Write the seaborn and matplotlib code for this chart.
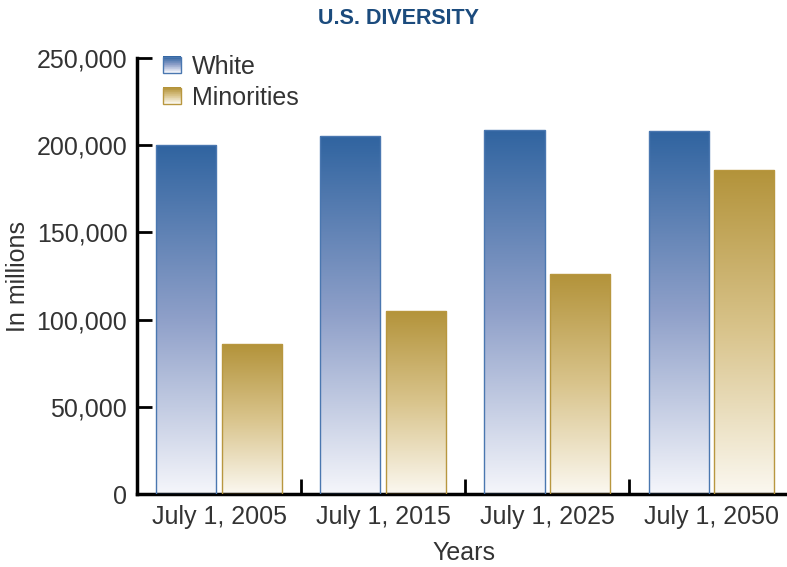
import numpy as np
import pandas as pd
import matplotlib
matplotlib.use("Agg")
import matplotlib.pyplot as plt
import seaborn as sns
from matplotlib.colors import LinearSegmentedColormap
from matplotlib.patches import Rectangle, Patch
from matplotlib.legend_handler import HandlerBase

# Population estimates (thousands) by group
years = ["July 1, 2005", "July 1, 2015", "July 1, 2025", "July 1, 2050"]
white = [200000, 205000, 209000, 208000]
minorities = [86000, 105000, 126000, 186000]
groups = ["White", "Minorities"]
yticks = [0, 50000, 100000, 150000, 200000, 250000]

df = pd.DataFrame({
    "year": years * 2,
    "value": white + minorities,
    "group": [groups[0]] * len(years) + [groups[1]] * len(years),
})

sns.set_theme(style="white")
plt.rcParams["font.family"] = ["Liberation Sans", "DejaVu Sans"]
text_color = "#333333"

# vertical fills: light at the base, saturated at the top
cmaps = {
    "White": LinearSegmentedColormap.from_list(
        "white_grad", ["#f5f6fb", "#8fa0c9", "#3064a0"]),
    "Minorities": LinearSegmentedColormap.from_list(
        "min_grad", ["#fbf8f0", "#d9c48c", "#b3933a"]),
}
edges = {"White": "#4a77b0", "Minorities": "#b8973f"}

fig = plt.figure(figsize=(7.87, 5.67), dpi=100)
ax = fig.add_axes([137 / 787, 1 - 494 / 567, 650 / 787, 436 / 567])

sns.barplot(data=df, x="year", y="value", hue="group", hue_order=groups,
            order=years, palette=[edges[g] for g in groups], width=0.8,
            gap=0.085, legend=False, ax=ax)

xlim = (-0.5, 3.46)
ylim = (0, 250000)

grad = np.linspace(0, 1, 256).reshape(-1, 1)
for i, patch in enumerate(ax.patches):
    g = groups[i // len(years)]
    x0, y0 = patch.get_x(), patch.get_y()
    w, h = patch.get_width(), patch.get_height()
    patch.set_facecolor("none")
    patch.set_edgecolor(edges[g])
    patch.set_linewidth(1.0)
    patch.set_zorder(3)
    im = ax.imshow(grad, extent=[x0, x0 + w, y0, y0 + h], origin="lower",
                   aspect="auto", cmap=cmaps[g], zorder=2)
    im.set_clip_path(patch)

ax.set_xlim(*xlim)
ax.set_ylim(*ylim)
ax.set_yticks(yticks)
ax.set_yticklabels([f"{v:,}" for v in yticks])
ax.set_xticks(range(len(years)))
ax.set_xticklabels(years)
ax.set_xticks([0.5, 1.5, 2.5], minor=True)
ax.set_xlabel("")
ax.set_ylabel("")

ax.tick_params(axis="y", which="major", direction="in", length=11, width=2,
               color="black", labelsize=18, labelcolor=text_color, pad=7, left=True)
ax.tick_params(axis="x", which="major", length=0, labelsize=18,
               labelcolor=text_color, pad=8)
ax.tick_params(axis="x", which="minor", direction="in", length=11, width=2,
               color="black", bottom=True)

for side in ["top", "right"]:
    ax.spines[side].set_visible(False)
for side in ["left", "bottom"]:
    ax.spines[side].set_color("black")
    ax.spines[side].set_linewidth(2.5)


class GradientHandler(HandlerBase):
    def __init__(self, cmap, edge):
        super().__init__()
        self.cmap = cmap
        self.edge = edge

    def create_artists(self, legend, orig_handle, xdescent, ydescent,
                       width, height, fontsize, trans):
        n = 24
        arts = []
        for k in range(n):
            arts.append(Rectangle((-xdescent, -ydescent + k * height / n),
                                  width, height / n + 0.3,
                                  facecolor=self.cmap(k / (n - 1)),
                                  edgecolor="none", transform=trans))
        arts.append(Rectangle((-xdescent, -ydescent), width, height,
                              facecolor="none", edgecolor=self.edge,
                              linewidth=1.0, transform=trans))
        return arts


handles = [Patch(label=g) for g in groups]
leg = ax.legend(handles=handles, labels=groups,
                handler_map={h: GradientHandler(cmaps[g], edges[g])
                             for h, g in zip(handles, groups)},
                loc="upper left", bbox_to_anchor=(0.04, 1.008), frameon=False,
                fontsize=18, handlelength=0.7, handleheight=0.62,
                handletextpad=0.45, labelspacing=0.28, borderpad=0,
                borderaxespad=0)
for t in leg.get_texts():
    t.set_color(text_color)

fig.text(399 / 787, 1 - 18 / 567, "U.S. DIVERSITY", ha="center", va="center",
         fontsize=15.5, fontweight="bold", color="#1b4b7d")
fig.text(18 / 787, 1 - 276 / 567, "In millions", rotation=90, ha="center",
         va="center", fontsize=18, color=text_color)
fig.text(464 / 787, 1 - 553 / 567, "Years", ha="center", va="center",
         fontsize=18, color=text_color)

fig.savefig("out.png", dpi=100)
